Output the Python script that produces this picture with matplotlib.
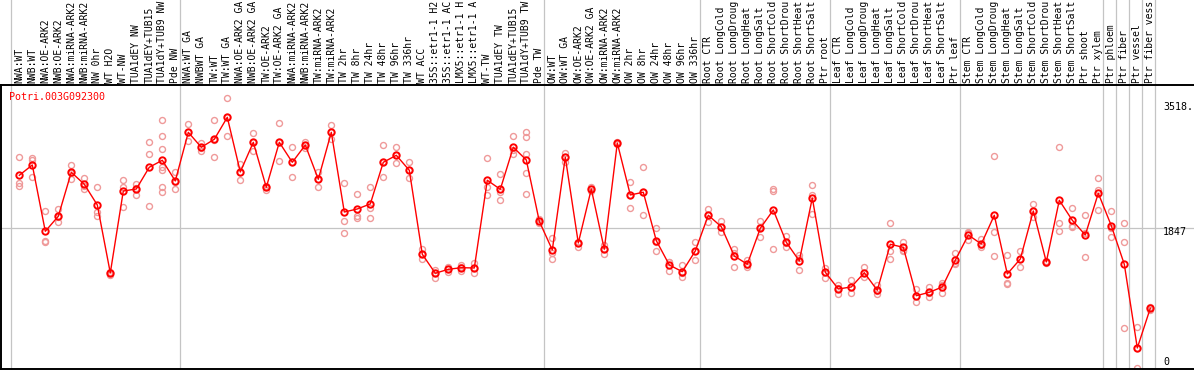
#!/usr/bin/env python3

import matplotlib
matplotlib.use("Agg")
import matplotlib.pyplot as plt
from matplotlib.lines import Line2D


GENE = "Potri.003G092300"

# labels as far as they show in the picture (long ones are cut at the top)
LABELS = [
    "NWA:WT", "NWB:WT", "NWA:OE-ARK2", "NWB:OE-ARK2", "NWA:miRNA-ARK2",
    "NWB:miRNA-ARK2", "NW 0hr", "WT H2O", "WT-NW", "TUA1dEY NW",
    "TUA1dEY+TUB15", "TUA1dY+TUB9 NW", "Pde NW",
    "NWA:WT GA", "NWBWT GA", "TW:WT", "TW:WT GA", "NWA:OE-ARK2 GA",
    "NWB:OE-ARK2 GA", "TW:OE-ARK2", "TW:OE-ARK2 GA", "NWA:miRNA-ARK2",
    "NWB:miRNA-ARK2", "TW:miRNA-ARK2", "TW:miRNA-ARK2", "TW 2hr", "TW 8hr",
    "TW 24hr", "TW 48hr", "TW 96hr", "TW 336hr", "WT ACC",
    "35S::etr1-1 H2", "35S::etr1-1 AC", "LMX5::etr1-1 H",
    "LMX5::etr1-1 A", "WT-TW", "TUA1dEY TW", "TUA1dEY+TUB15",
    "TUA1dY+TUB9 TW", "Pde TW",
    "OW:WT", "OW:WT GA", "OW:OE-ARK2", "OW:OE-ARK2 GA", "OW:miRNA-ARK2",
    "OW:miRNA-ARK2", "OW 2hr", "OW 8hr", "OW 24hr", "OW 48hr", "OW 96hr",
    "OW 336hr",
    "Root CTR", "Root LongCold", "Root LongDroug", "Root LongHeat",
    "Root LongSalt", "Root ShortCold", "Root ShortDrou", "Root ShortHeat",
    "Root ShortSalt", "Ptr root",
    "Leaf CTR", "Leaf LongCold", "Leaf LongDroug", "Leaf LongHeat",
    "Leaf LongSalt", "Leaf ShortCold", "Leaf ShortDrou", "Leaf ShortHeat",
    "Leaf ShortSalt", "Ptr leaf",
    "Stem CTR", "Stem LongCold", "Stem LongDroug", "Stem LongHeat",
    "Stem LongSalt", "Stem ShortCold", "Stem ShortDrou", "Stem ShortHeat",
    "Stem ShortSalt", "Ptr shoot", "Ptr xylem",
    "Ptr phloem", "Ptr fiber", "Ptr vessel", "Ptr fiber vess",
]

MEANS = [
    2523, 2656, 1800, 1994, 2562, 2407, 2140, 1262, 2320, 2346,
    2627, 2717, 2450, 3078, 2885, 2988, 3272, 2566, 2949, 2368,
    2949, 2691, 2914, 2472, 3078, 2049, 2088, 2153, 2691, 2781,
    2588, 1503, 1258, 1309, 1330, 1326, 2459, 2342, 2885, 2721,
    1929, 1559, 2756, 1649, 2346, 1568, 2940, 2269, 2304, 1679,
    1365, 1278, 1546, 2007, 1859, 1481, 1374, 1839, 2075, 1658,
    1417, 2230, 1271, 1055, 1081, 1265, 1038, 1632, 1593, 968,
    1012, 1081, 1426, 1752, 1636, 2007, 1249, 1442, 2062, 1404,
    2200, 1942, 1752, 2291, 1872, 1374, 293, 806,
]

REPS = [
    [2756, 2420, 2385], [2750, 2721, 2497], [2062, 1675, 1662],
    [2084, 1985, 1916], [2656, 2553, 2479], [2488, 2385, 2350],
    [2368, 2045, 1998], [1274, 1262, 1236], [2462, 2376, 2114],
    [2407, 2359, 2269], [2949, 2794, 2123],
    [3233, 3027, 2859, 2627, 2592, 2376, 2304],
    [2570, 2437, 2342], [3186, 3082, 2970], [2936, 2876, 2837],
    [3233, 2979, 2756], [3518, 3276, 3027], [2669, 2566, 2462],
    [3066, 2953, 2833], [2385, 2368, 2333], [3195, 2953, 2704],
    [2893, 2695, 2497], [2957, 2914, 2872], [2570, 2475, 2376],
    [3173, 3082, 2992], [2420, 1929, 1774], [2278, 1998, 1968],
    [2376, 2097, 1968], [2911, 2695, 2497], [2885, 2781, 2678],
    [2691, 2588, 2484], [1568, 1503, 1439], [1300, 1266, 1193],
    [1343, 1309, 1278], [1361, 1339, 1284], [1395, 1326, 1258],
    [2743, 2368, 2269], [2536, 2311, 2204], [3031, 2850, 2794],
    [3082, 3014, 2798, 2549, 2282],
    [1955, 1933, 1903], [1717, 1520, 1442], [2815, 2756, 2699],
    [1666, 1649, 1601], [2368, 2346, 2317], [1623, 1572, 1507],
    [2957, 2940, 2923], [2437, 2269, 2097], [2627, 2304, 2007],
    [1843, 1662, 1542], [1408, 1404, 1291], [1365, 1262, 1214],
    [1658, 1546, 1429], [2088, 2011, 1916], [1937, 1856, 1795],
    [1572, 1516, 1339], [1430, 1365, 1335], [1933, 1856, 1723],
    [2342, 2320, 1568], [1739, 1649, 1601], [1494, 1459, 1296],
    [2398, 2269, 2023], [1322, 1278, 1201], [1107, 1068, 987],
    [1171, 1081, 999], [1339, 1262, 1206], [1107, 1033, 990],
    [1903, 1550, 1439], [1662, 1559, 1550], [1055, 965, 891],
    [1085, 1003, 956], [1136, 1107, 999], [1516, 1391, 1374],
    [1795, 1774, 1688], [1697, 1623, 1593], [2769, 1787, 1481],
    [1490, 1129, 1120], [1550, 1442, 1335], [2153, 2062, 1981],
    [1420, 1404, 1387], [2885, 1907, 1800], [2097, 1869, 1860],
    [2007, 1774, 1468], [2484, 2333, 2075], [2062, 1839, 1730],
    [1903, 1658, 548], [560, 293, 31], [826, 806, 784],
]

# last sample index of every group (separator drawn after it)
GROUP_ENDS = [-1, 12, 40, 52, 62, 72, 83, 84, 85, 86, 87]

GRID_VALUE = 1847
MAX_LABEL = "3518."
MID_LABEL = "1847"
MIN_LABEL = "0"

MONO = "DejaVu Sans Mono"
GRAY = "#c4c4c4"
PINK = "#ef9a9a"


def main():
    W, H = 1194, 370
    fig = plt.figure(figsize=(W / 100, H / 100), dpi=100)
    top, bottom = 85, 368.5
    ax = fig.add_axes([1 / W, (H - bottom) / H, 1 - 1 / W, (bottom - top) / H])

    n = len(MEANS)
    xs = list(range(n))

    ax.set_xlim((1 - 19.3) / 13, (W - 19.3) / 13)
    ax.set_ylim(28, 3689)

    # separators, reaching up through the label area
    trans = ax.get_xaxis_transform()
    for g in GROUP_ENDS:
        ax.add_line(Line2D([g + 0.39, g + 0.39], [0, 1.4], transform=trans,
                           color=GRAY, lw=0.9, clip_on=False, zorder=1))
    ax.axhline(GRID_VALUE, color=GRAY, lw=0.9, zorder=1)

    for i, reps in enumerate(REPS):
        ax.plot([i] * len(reps), reps, "o", mfc="none", mec=PINK,
                ms=4.3, mew=1.0, zorder=2)
    ax.plot(xs, MEANS, color="red", lw=1.0, zorder=3)
    ax.plot(xs, MEANS, "o", mfc="none", mec="red", ms=4.6, mew=1.4, zorder=4)

    for i, lab in enumerate(LABELS):
        ax.annotate(lab, xy=(i, 1), xycoords=("data", "axes fraction"),
                    xytext=(0, 2), textcoords="offset pixels",
                    rotation=90, ha="center", va="bottom",
                    fontfamily=MONO, fontsize=7, annotation_clip=False)

    ax.annotate(GENE, xy=(0, 1), xycoords="axes fraction",
                xytext=(8.5, -12), textcoords="offset pixels",
                ha="left", va="center", color="red",
                fontfamily=MONO, fontsize=7.2)

    lx = (1163 - 1) / (W - 1)
    for lab, val, off in [(MAX_LABEL, 3518, -9), (MID_LABEL, GRID_VALUE, -4.5),
                          (MIN_LABEL, 0, 9)]:
        ax.annotate(lab, xy=(lx, val), xycoords=("axes fraction", "data"),
                    xytext=(0, off), textcoords="offset pixels",
                    ha="left", va="center", fontfamily=MONO, fontsize=7.2,
                    annotation_clip=False, zorder=5)

    ax.set_xticks([])
    ax.set_yticks([])
    ax.spines["right"].set_visible(False)
    for s in ["left", "top", "bottom"]:
        ax.spines[s].set_linewidth(1.4)

    fig.savefig("out.png", dpi=100)


if __name__ == "__main__":
    main()
